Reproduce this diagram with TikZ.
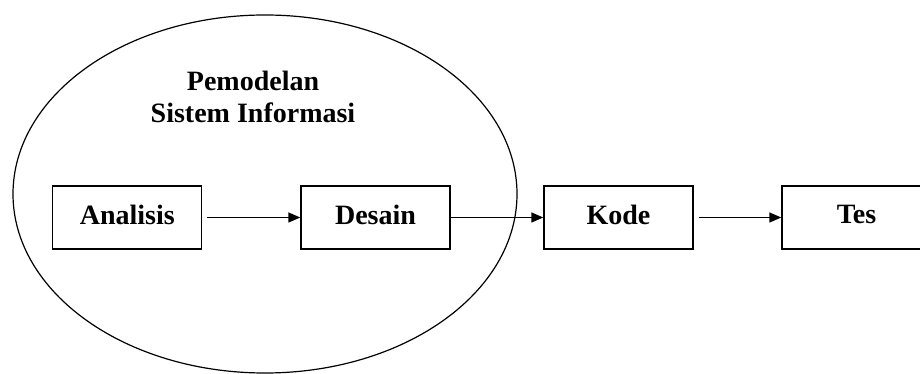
\documentclass[tikz,border=0pt]{standalone}
\usepackage{fontspec}
\setmainfont{Liberation Serif}
\usetikzlibrary{arrows.meta,shapes.geometric}
\begin{document}
\begin{tikzpicture}[x=1pt,y=1pt,
  stage/.style={draw, line width=1.4pt, minimum width=149pt, minimum height=63pt,
    inner sep=0pt, text depth=6pt, font=\fontsize{28}{32}\selectfont\bfseries},
  flow/.style={-{Triangle[length=12pt,width=10pt]}, line width=1.4pt},
  title/.style={align=center, font=\fontsize{28}{32}\selectfont\bfseries}]
\useasboundingbox (0,0) rectangle (920,374);
\clip (0,0) rectangle (920,374);
% modelling scope
\node[ellipse, draw, line width=1.2pt, minimum width=504pt, minimum height=358pt, inner sep=0pt] (scope) at (265,180) {};
\node[title] (caption) at (253,277) {Pemodelan\\Sistem Informasi};
% process stages
\node[stage] (ana) at (127.25,156.5) {Analisis};
\node[stage] (des) at (375.5,156.5) {Desain};
\node[stage] (kod) at (618.5,156.5) {Kode};
\node[stage] (tes) at (856.5,156.5) {Tes};
% flow between stages
\draw[flow] ([xshift=5pt]ana.east) -- (des.west);
\draw[flow] ([xshift=-2pt]des.east) -- (kod.west);
\draw[flow] ([xshift=5pt]kod.east) -- (tes.west);
\end{tikzpicture}
\end{document}
